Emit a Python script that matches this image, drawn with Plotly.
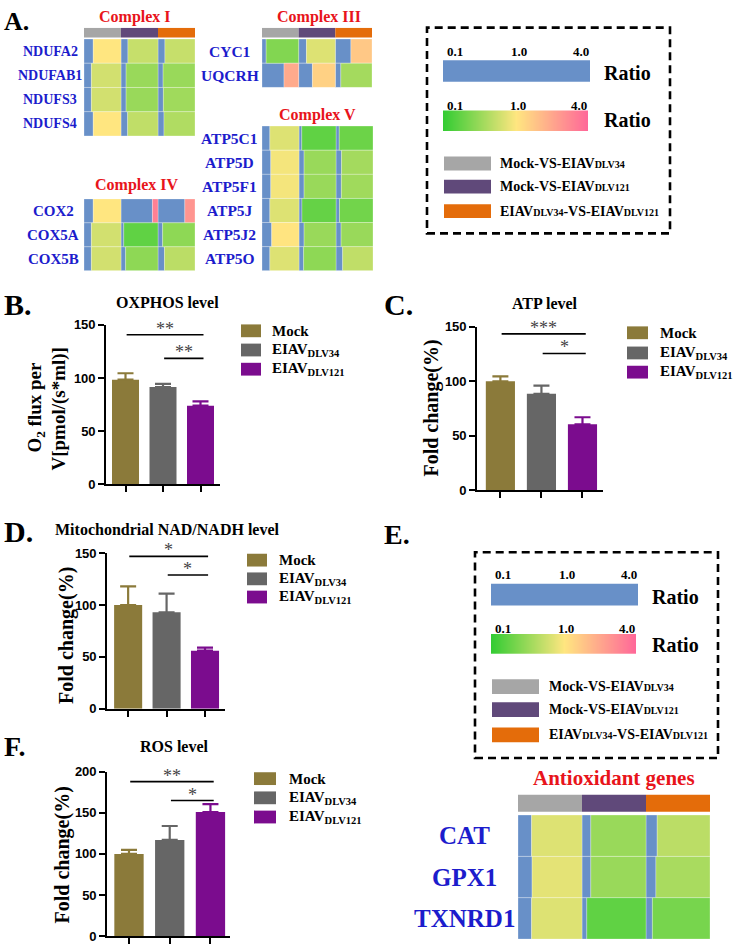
import plotly.graph_objects as go

W, H = 750, 951
SERIF = "Liberation Serif"
SANS = "Liberation Sans"

# ---------------- data ----------------
comparison_labels = [
    "Mock-VS-EIAV<span style='font-size:10px'>DLV34</span>",
    "Mock-VS-EIAV<span style='font-size:10px'>DLV121</span>",
    "EIAV<span style='font-size:10px'>DLV34</span>-VS-EIAV<span style='font-size:10px'>DLV121</span>",
]
ratio_ticks = [0.1, 1.0, 4.0]
ratio_tick_labels = ["0.1", "1.0", "4.0"]

complex1_genes = ["NDUFA2", "NDUFAB1", "NDUFS3", "NDUFS4"]
complex1_ratio = [[1.0, 0.75, 0.75], [0.8, 0.55, 0.55], [0.8, 0.55, 0.58], [1.0, 0.72, 0.65]]
complex3_genes = ["CYC1", "UQCRH"]
complex3_ratio = [[0.45, 0.85, 1.7], [2.4, 1.5, 0.6]]
complex4_genes = ["COX2", "COX5A", "COX5B"]
complex4_ratio = [[1.0, 3.4, 2.9], [0.8, 0.3, 0.5], [0.8, 0.5, 0.7]]
complex5_genes = ["ATP5C1", "ATP5D", "ATP5F1", "ATP5J", "ATP5J2", "ATP5O"]
complex5_ratio = [[0.85, 0.3, 0.35], [0.95, 0.55, 0.6], [0.95, 0.55, 0.58],
                  [0.85, 0.32, 0.38], [1.05, 0.55, 0.55], [0.85, 0.5, 0.72]]
antiox_genes = ["CAT", "GPX1", "TXNRD1"]
antiox_ratio = [[0.85, 0.55, 0.7], [0.88, 0.55, 0.62], [0.85, 0.3, 0.4]]

groups = ["Mock", "EIAV<sub>DLV34</sub>", "EIAV<sub>DLV121</sub>"]
oxphos_mean = [98.5, 91.5, 74]
oxphos_err = [6, 3, 4]
oxphos_sig = [("**", 0, 2, 140.7), ("**", 1, 2, 118.5)]
atp_mean = [100, 88.5, 60.5]
atp_err = [4.5, 7.5, 6.5]
atp_sig = [("***", 0, 2, 143.6), ("*", 1, 2, 125.6)]
nad_mean = [100, 93, 56]
nad_err = [18, 18, 3]
nad_sig = [("*", 0, 2, 147), ("*", 1, 2, 129)]
ros_mean = [100, 117, 151]
ros_err = [5, 17, 9.5]
ros_sig = [("**", 0, 2, 188), ("*", 1, 2, 165)]

# ---------------- styles ----------------
comparison_colors = ["#a6a6a6", "#60497a", "#e46c0a"]
scale_colors = ["#33cc33", "#ffe680", "#ff6699"]
BLUE = "#6890c8"
GENE_BLUE = "#1c1ccc"
TITLE_RED = "#e8141b"
group_colors = ["#8b7a3a", "#666666", "#7b0c8e"]

CS = [[(t - ratio_ticks[0]) / (ratio_ticks[-1] - ratio_ticks[0]), c]
      for t, c in zip(ratio_ticks, scale_colors)]

fig = go.Figure()
axes = {}
annotations = []
shapes = []


def names(k):
    s = "" if k == 1 else str(k)
    return "xaxis" + s, "yaxis" + s, "x" + s, "y" + s


def xdom(a, b):
    return [a / W, b / W]


def ydom(top, bottom):
    return [1 - bottom / H, 1 - top / H]


def px(x):
    return x / W


def py(y):
    return 1 - y / H


def text(x, y, s, size, color="black", family=SERIF, xanchor="center",
         yanchor="middle", angle=0):
    annotations.append(dict(x=px(x), y=py(y), xref="paper", yref="paper", text=s,
                            showarrow=False, textangle=angle,
                            font=dict(family=family, size=size, color=color),
                            xanchor=xanchor, yanchor=yanchor))


def rect(x0, y0, x1, y1, fill, lw=0, lc=None, dash=None):
    shapes.append(dict(type="rect", xref="paper", yref="paper",
                       x0=px(x0), x1=px(x1), y0=py(y1), y1=py(y0),
                       fillcolor=fill, layer="above",
                       line=dict(width=lw, color=lc or fill, dash=dash)))


def heat_block(k, genes, ratios, x0, x1, heat_top, heat_bottom, header_top=None,
               header_h=0, label_cx=0, label_size=14):
    xa, ya, xr, yr = names(k)
    n = len(genes)
    u = (heat_bottom - heat_top) / n
    top = header_top if header_top is not None else heat_top
    y_top = -0.5 - (heat_top - top) / u
    rows, cols, vals = [], [], []
    for i in range(n):
        for j in range(3):
            rows.append(i)
            cols.append(j)
            vals.append(ratios[i][j])
    blue = [v / ratio_ticks[-1] for v in vals]
    fig.add_trace(go.Bar(orientation="h", y=rows, x=blue, base=cols, width=1,
                         marker=dict(color=BLUE, line=dict(width=0.6, color="rgba(255,255,255,0.45)")),
                         xaxis=xr, yaxis=yr, showlegend=False, hoverinfo="skip"))
    fig.add_trace(go.Bar(orientation="h", y=rows, x=[1 - b for b in blue],
                         base=[c + b for c, b in zip(cols, blue)], width=1,
                         marker=dict(color=vals, colorscale=CS, cmin=ratio_ticks[0],
                                     cmax=ratio_ticks[-1],
                                     line=dict(width=0.6, color="rgba(255,255,255,0.45)")),
                         xaxis=xr, yaxis=yr, showlegend=False, hoverinfo="skip"))
    if header_top is not None:
        hc = -0.5 - (heat_top - header_top - header_h / 2) / u
        fig.add_trace(go.Bar(orientation="h", y=[hc] * 3, x=[1] * 3, base=[0, 1, 2],
                             width=header_h / u,
                             marker=dict(color=comparison_colors, line=dict(width=0)),
                             xaxis=xr, yaxis=yr, showlegend=False, hoverinfo="skip"))
    axes[xa] = dict(domain=xdom(x0, x1), range=[0, 3], visible=False, anchor=yr)
    axes[ya] = dict(domain=ydom(top, heat_bottom), range=[n - 0.5, y_top],
                    visible=False, anchor=xr)
    for i, g in enumerate(genes):
        text(label_cx, heat_top + (i + 0.5) * u, f"<b>{g}</b>", label_size, color=GENE_BLUE)


def gradient_legend(k, x0, x1, top, bottom):
    xa, ya, xr, yr = names(k)
    fig.add_trace(go.Heatmap(z=[ratio_ticks], x=[0, 0.5, 1], y=[0], zsmooth="best",
                             colorscale=CS, zmin=ratio_ticks[0], zmax=ratio_ticks[-1],
                             showscale=False, xaxis=xr, yaxis=yr, hoverinfo="skip"))
    axes[xa] = dict(domain=xdom(x0, x1), range=[0, 1], visible=False, anchor=yr)
    axes[ya] = dict(domain=ydom(top, bottom), range=[-0.5, 0.5], visible=False, anchor=xr)


def ratio_legend(box, blue_bar, grad_bar, k, tick_y1, tick_y2, ratio_x, ratio_y1,
                 ratio_y2, sw_x0, sw_x1, sw_centers, sw_h, txt_x):
    rect(*box, "rgba(0,0,0,0)", lw=2.6, lc="black", dash="8px,5px")
    rect(*blue_bar, BLUE)
    gradient_legend(k, grad_bar[0], grad_bar[2], grad_bar[1], grad_bar[3])
    for ty, bar in ((tick_y1, blue_bar), (tick_y2, grad_bar)):
        xs = [bar[0] + 2, (bar[0] + bar[2]) / 2 + 2, bar[2] + 1]
        anchors = ["left", "center", "right"]
        for xx, lab, an in zip(xs, ratio_tick_labels, anchors):
            text(xx, ty, f"<b>{lab}</b>", 13, xanchor=an)
    text(ratio_x, ratio_y1, "<b>Ratio</b>", 20, xanchor="left")
    text(ratio_x, ratio_y2, "<b>Ratio</b>", 20, xanchor="left")
    for c, col, lab in zip(sw_centers, comparison_colors, comparison_labels):
        rect(sw_x0, c - sw_h / 2, sw_x1, c + sw_h / 2, col)
        text(txt_x, c, f"<b>{lab}</b>", 14, xanchor="left")


def bar_chart(k, means, errs, sig, x0, x1, xrange_, ytop, ybottom, ymax, bar_w):
    xa, ya, xr, yr = names(k)
    for i in range(3):
        fig.add_trace(go.Bar(x=[i], y=[means[i]], width=bar_w,
                             marker=dict(color=group_colors[i], line=dict(width=0)),
                             error_y=dict(type="data", array=[errs[i]], arrayminus=[0],
                                          symmetric=False, color=group_colors[i],
                                          thickness=2.2, width=8),
                             xaxis=xr, yaxis=yr, showlegend=False, hoverinfo="skip"))
    for stars, a, b, level in sig:
        fig.add_trace(go.Scatter(x=[a + 0.03, b + 0.08], y=[level, level], mode="lines",
                                 line=dict(color="black", width=1.6), xaxis=xr, yaxis=yr,
                                 showlegend=False, hoverinfo="skip"))
        annotations.append(dict(x=(a + b) / 2 + 0.05, y=level, xref=xr, yref=yr, text=stars,
                                showarrow=False, yanchor="middle", yshift=6,
                                font=dict(family=SERIF, size=18, color="#444444")))
    axes[xa] = dict(domain=xdom(x0, x1), range=xrange_, showline=True, linecolor="black",
                    linewidth=1.6, ticks="outside", tickvals=[0, 1, 2], ticklen=6,
                    tickwidth=1.6, tickcolor="black", showticklabels=False,
                    showgrid=False, zeroline=False, anchor=yr)
    axes[ya] = dict(domain=ydom(ytop, ybottom), range=[0, ymax], showline=True,
                    linecolor="black", linewidth=1.6, ticks="outside", ticklen=6,
                    tickwidth=1.6, tickcolor="black", dtick=50, showgrid=False,
                    zeroline=False, anchor=xr,
                    tickfont=dict(family=SANS, size=13, color="black", weight="bold"))


def bar_legend(sw_x0, sw_x1, centers, txt_x):
    for c, col, lab in zip(centers, group_colors, groups):
        rect(sw_x0, c - 6.5, sw_x1, c + 6.5, col)
        text(txt_x, c, f"<b>{lab}</b>", 15, xanchor="left")


# ---------------- panel A ----------------
text(2, 15, "<b>A.</b>", 26, xanchor="left")
text(135, 10, "<b>Complex I</b>", 16, color=TITLE_RED)
heat_block(1, complex1_genes, complex1_ratio, 84, 195, 32.5, 131, header_top=21,
           header_h=10, label_cx=50, label_size=14)
text(319, 10, "<b>Complex III</b>", 16, color=TITLE_RED)
heat_block(2, complex3_genes, complex3_ratio, 262, 372, 32.5, 81.7, header_top=21,
           header_h=10, label_cx=230, label_size=15.5)
text(137, 181, "<b>Complex IV</b>", 16, color=TITLE_RED)
heat_block(3, complex4_genes, complex4_ratio, 84, 195, 195, 268, label_cx=53, label_size=15)
text(317, 110, "<b>Complex V</b>", 16, color=TITLE_RED)
heat_block(4, complex5_genes, complex5_ratio, 262, 373, 121, 268, label_cx=230,
           label_size=15.5)

ratio_legend(box=(427, 21, 670, 230), blue_bar=(443, 54, 590, 76),
             grad_bar=(443, 105, 588, 126), k=6, tick_y1=45, tick_y2=100,
             ratio_x=602, ratio_y1=67, ratio_y2=115, sw_x0=444, sw_x1=491,
             sw_centers=[159, 182.5, 207.5], sw_h=14, txt_x=498)

# ---------------- panel B ----------------
text(2, 302, "<b>B.</b>", 30, xanchor="left")
text(167, 300, "<b>OXPHOS level</b>", 16)
bar_chart(8, oxphos_mean, oxphos_err, oxphos_sig, 106, 220, [-0.52, 2.52], 323, 485, 150, 0.72)
text(36, 407, "<b>O<sub>2</sub> flux per</b>", 19, angle=-90)
text(59, 409, "<b>V[pmol/(s*ml)]</b>", 19, angle=-90)
bar_legend(241, 261, [329, 348.5, 368], 270)

# ---------------- panel C ----------------
text(382, 302, "<b>C.</b>", 30, xanchor="left")
text(545, 301, "<b>ATP level</b>", 16)
bar_chart(9, atp_mean, atp_err, atp_sig, 477, 603, [-0.57, 2.5], 325, 491, 150, 0.71)
text(432, 407, "<b>Fold change(%)</b>", 20, angle=-90)
bar_legend(627, 648, [331, 351.5, 371], 658)

# ---------------- panel D ----------------
text(2, 533, "<b>D.</b>", 30, xanchor="left")
text(167, 531, "<b>Mitochondrial NAD/NADH level</b>", 16)
bar_chart(10, nad_mean, nad_err, nad_sig, 107, 225, [-0.55, 2.52], 555, 713, 150, 0.73)
text(67, 639, "<b>Fold change(%)</b>", 20, angle=-90)
bar_legend(247, 267, [562, 581, 599.5], 277)

# ---------------- panel E ----------------
text(382, 536, "<b>E.</b>", 28, xanchor="left")
ratio_legend(box=(475, 554, 718, 763), blue_bar=(491, 586, 638, 608),
             grad_bar=(491, 637, 636, 657), k=7, tick_y1=577, tick_y2=631,
             ratio_x=650, ratio_y1=599, ratio_y2=648, sw_x0=492, sw_x1=539,
             sw_centers=[690.5, 714, 739.5], sw_h=15, txt_x=547)
text(614, 783, "<b>Antioxidant genes</b>", 21, color=TITLE_RED)
heat_block(5, antiox_genes, antiox_ratio, 518, 710, 821, 947, header_top=800,
           header_h=17.7, label_cx=464, label_size=25)

# ---------------- panel F ----------------
text(2, 751, "<b>F.</b>", 28, xanchor="left")
text(174, 751, "<b>ROS level</b>", 16)
bar_chart(11, ros_mean, ros_err, ros_sig, 107, 230, [-0.54, 2.48], 777, 944, 200, 0.72)
text(62, 862, "<b>Fold change(%)</b>", 20, angle=-90)
bar_legend(254, 276, [784, 803.5, 823], 287)

fig.update_layout(width=W, height=H, margin=dict(l=0, r=0, t=0, b=0),
                  paper_bgcolor="white", plot_bgcolor="rgba(0,0,0,0)",
                  barmode="overlay", showlegend=False, hovermode=False,
                  annotations=annotations, shapes=shapes, **axes)
fig.write_html("out.html", config={"displayModeBar": False},
               post_script="document.body.style.margin='0';document.body.style.overflow='hidden';")
